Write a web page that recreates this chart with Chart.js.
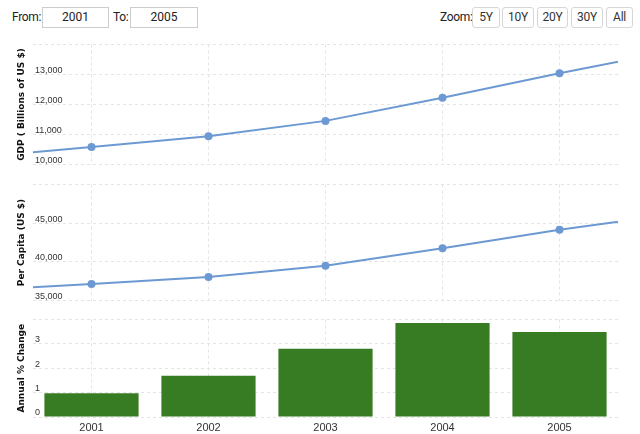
<!DOCTYPE html>
<html>
<head>
<meta charset="utf-8">
<script src="https://cdn.jsdelivr.net/npm/chart.js@4.4.0/dist/chart.umd.min.js"></script>
<style>
  html, body { margin: 0; padding: 0; background: #fff; width: 640px; height: 434px; overflow: hidden; }
  .t { position: absolute; font-family: Roboto, "Liberation Sans", sans-serif; font-size: 12px; color: #222; letter-spacing: -0.3px; line-height: 20px; }
  .box { position: absolute; box-sizing: border-box; border: 1px solid #ccc; background: #fff; text-align: center; font-family: Roboto, sans-serif; font-size: 12px; color: #222; line-height: 18px; }
  .btn { position: absolute; box-sizing: border-box; border: 1px solid #d6d6d6; border-radius: 3px; background: #fff; text-align: center; font-family: Roboto, sans-serif; font-size: 12px; color: #333; line-height: 19px; letter-spacing: -0.3px; }
  canvas { position: absolute; left: 0; }
</style>
</head>
<body>
<div class="t" style="left:12px;top:7px;">From:</div>
<div class="box" style="left:42px;top:7px;width:67px;height:21px;">2001</div>
<div class="t" style="left:113px;top:7px;">To:</div>
<div class="box" style="left:130px;top:7px;width:68px;height:21px;">2005</div>
<div class="t" style="left:440px;top:7px;">Zoom:</div>
<div class="btn" style="left:472px;top:7px;width:28px;height:21px;">5Y</div>
<div class="btn" style="left:502px;top:7px;width:32px;height:21px;">10Y</div>
<div class="btn" style="left:537px;top:7px;width:31px;height:21px;">20Y</div>
<div class="btn" style="left:571px;top:7px;width:32px;height:21px;">30Y</div>
<div class="btn" style="left:606px;top:7px;width:27px;height:21px;">All</div>

<div style="position:absolute;left:0;top:37px;width:640px;height:135px;"><canvas id="c1"></canvas></div>
<div style="position:absolute;left:0;top:177px;width:640px;height:131px;"><canvas id="c2"></canvas></div>
<div style="position:absolute;left:0;top:312px;width:640px;height:122px;"><canvas id="c3"></canvas></div>

<script>
// Years (2000 and 2006 lie just outside the visible 2001-2005 window)
const years = [2000, 2001, 2002, 2003, 2004, 2005, 2006];
const tickYears = [2001, 2002, 2003, 2004, 2005];
const viewMin = 2000.5;
const viewMax = 2005.5;

// GDP (Billions of US $)
const gdpValues = [10240, 10585, 10940, 11455, 12222, 13043, 13800];
// Per capita GDP (US $)
const perCapitaValues = [36325, 37140, 38045, 39493, 41757, 44158, 46214];
// Annual % change (visible years)
const growthYears = [2001, 2002, 2003, 2004, 2005];
const growthValues = [0.97, 1.69, 2.80, 3.85, 3.48];

// Axis ranges / tick steps
const gdpAxis = { min: 10000, max: 14000, step: 1000 };
const perCapitaAxis = { min: 35000, max: 50000, step: 5000 };
const growthAxis = { min: 0, max: 4, step: 1 };

const gdpTitle = 'GDP ( Billions of US $)';
const perCapitaTitle = 'Per Capita (US $)';
const growthTitle = 'Annual % Change';

const LINE = '#6d99d3';
const BAR = '#377c22';
const GRID = '#e4e4e4';

const toPoints = (xs, ys) => xs.map((x, i) => ({ x: x, y: ys[i] }));

function yScale(axis, title) {
  return {
    min: axis.min, max: axis.max,
    afterFit: s => { s.width = 33; },
    grid: { color: GRID, drawTicks: false, lineWidth: 1 },
    border: { display: false, dash: [3, 3] },
    ticks: {
      stepSize: axis.step,
      mirror: true,
      padding: 2,
      labelOffset: -4,
      color: '#333',
      font: { family: '"Liberation Sans", Arial, sans-serif', size: 9 },
      callback: v => (v === axis.max ? '' : v.toLocaleString('en-US'))
    },
    title: {
      display: true, text: title, color: '#111',
      font: { family: '"DejaVu Sans", Verdana, sans-serif', size: 9, weight: 'bold' },
      padding: { top: 16, bottom: 0 }
    }
  };
}

function xScale(showTicks) {
  return {
    type: 'linear',
    min: viewMin, max: viewMax,
    offset: false,
    afterBuildTicks: s => { s.ticks = tickYears.map(v => ({ value: v })); },
    afterFit: s => { s.height = showTicks ? 17 : 0; },
    grid: { color: GRID, drawTicks: false, offset: false },
    border: { display: false, dash: [3, 3] },
    ticks: {
      display: showTicks,
      padding: 4,
      color: '#333',
      font: { family: '"Liberation Sans", Arial, sans-serif', size: 11 },
      callback: v => String(v)
    }
  };
}

const common = {
  responsive: true,
  maintainAspectRatio: false,
  animation: false,
  events: [],
  plugins: { legend: { display: false }, tooltip: { enabled: false } }
};

function lineChart(id, values, axis, title) {
  return new Chart(document.getElementById(id), {
    type: 'line',
    data: { datasets: [{
      data: toPoints(years, values), borderColor: LINE, backgroundColor: LINE, borderWidth: 2,
      pointRadius: 4, pointBackgroundColor: LINE, pointBorderWidth: 0, tension: 0
    }]},
    options: Object.assign({}, common, {
      layout: { padding: { top: 5, bottom: 5, left: 0, right: 22 } },
      scales: { x: xScale(false), y: yScale(axis, title) }
    })
  });
}

lineChart('c1', gdpValues, gdpAxis, gdpTitle);
lineChart('c2', perCapitaValues, perCapitaAxis, perCapitaTitle);

new Chart(document.getElementById('c3'), {
  type: 'bar',
  data: { datasets: [{
    data: toPoints(growthYears, growthValues), backgroundColor: BAR, borderWidth: 0,
    barPercentage: 1, categoryPercentage: 0.805
  }]},
  options: Object.assign({}, common, {
    layout: { padding: { top: 4, bottom: 0, left: 0, right: 22 } },
    scales: { x: xScale(true), y: yScale(growthAxis, growthTitle) }
  })
});
</script>
</body>
</html>
